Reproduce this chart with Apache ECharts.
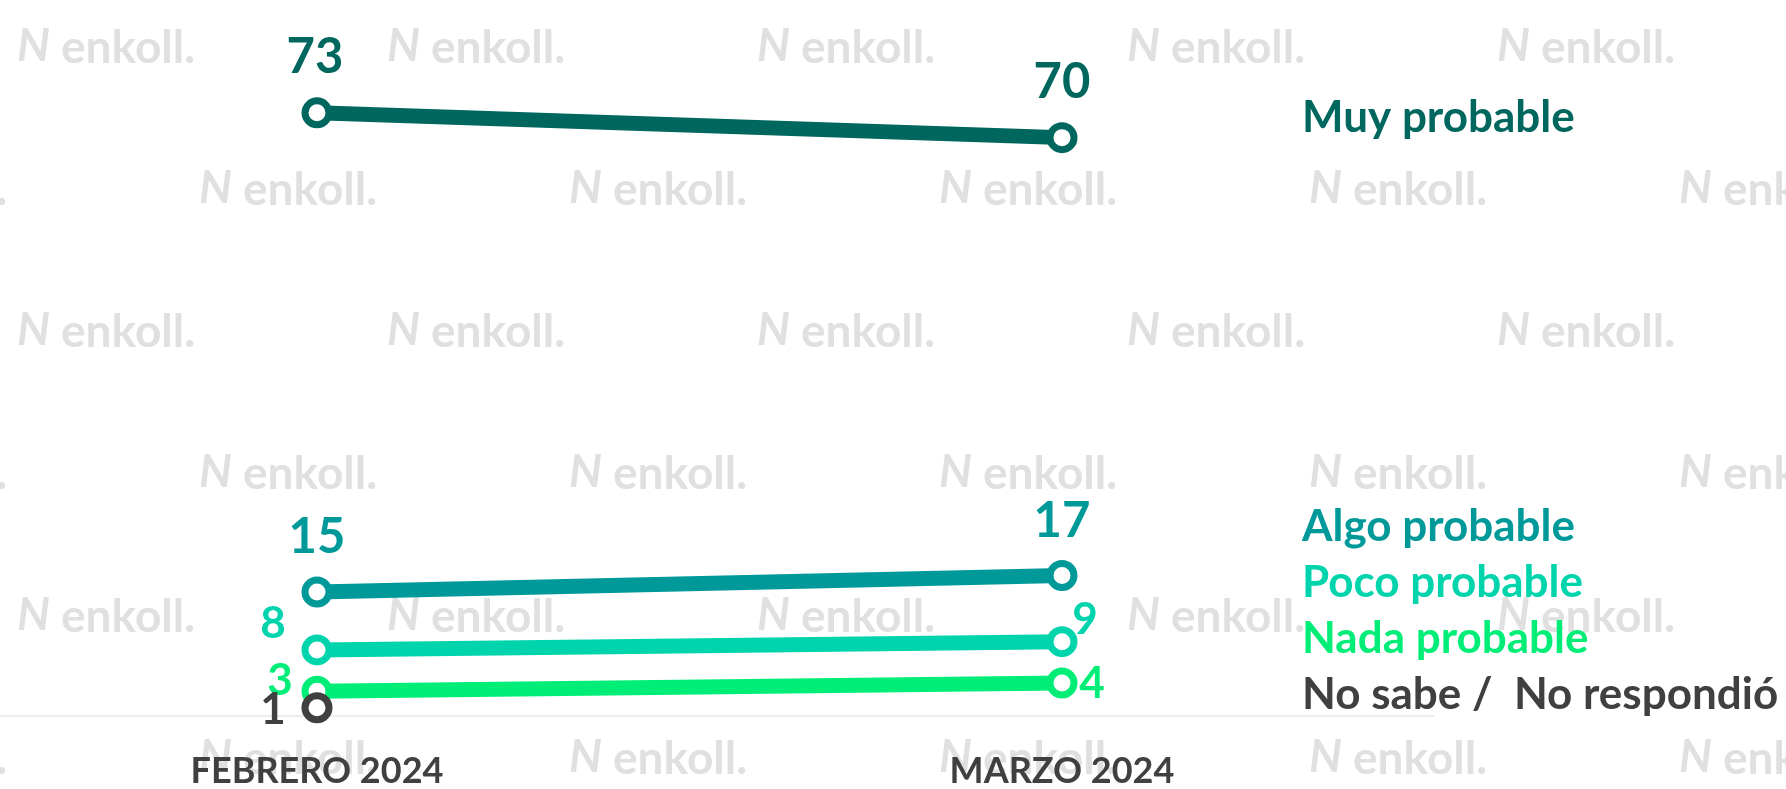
<!DOCTYPE html>
<html>
<head>
<meta charset="utf-8">
<script src="https://cdn.jsdelivr.net/npm/echarts@6/dist/echarts.min.js"></script>
<style>
  html, body { margin: 0; padding: 0; background: #fff; }
  #chart { width: 1786px; height: 789px; }
</style>
</head>
<body>
<div id="chart"></div>
<script>
const categories = ["FEBRERO 2024", "MARZO 2024"];
const seriesNames = ["Muy probable", "Algo probable", "Poco probable", "Nada probable", "No sabe /  No respondió"];
const muyProbable = [73, 70];
const algoProbable = [15, 17];
const pocoProbable = [8, 9];
const nadaProbable = [3, 4];
const noSabe = [1, null];

const colors = ["#00675F", "#009999", "#00D4AD", "#00EE77", "#404040"];
// label offsets relative to the marker [feb, mar]
const labelOffsets = [
  [[-2, -56], [0, -55]],
  [[0, -55], [0, -54]],
  [[-44, -26], [23, -22]],
  [[-37, -10], [30, 1]],
  [[-44, 2], [0, 0]]
];
const labelSizes = [49, 49, 44, 44, 44];
const FONT = "Lato, 'Open Sans', sans-serif";

const chart = echarts.init(document.getElementById("chart"));

const values = [muyProbable, algoProbable, pocoProbable, nadaProbable, noSabe];
const series = values.map((vals, i) => ({
  name: seriesNames[i],
  type: "line",
  data: vals.map((v, j) => ({
    value: [j, v],
    label: { offset: labelOffsets[i][j] }
  })),
  color: colors[i],
  lineStyle: { width: 15, color: colors[i] },
  symbol: "circle",
  symbolSize: 24,
  itemStyle: { color: "#fff", borderColor: colors[i], borderWidth: 7 },
  label: {
    show: true,
    position: "inside",
    color: colors[i],
    fontFamily: FONT,
    fontWeight: "bold",
    fontSize: labelSizes[i],
    formatter: p => p.value[1]
  },
  emphasis: { disabled: true },
  z: 3 + i
}));

// watermark
const watermark = [];
const rowsY = [46, 188, 330, 472, 615, 757];
rowsY.forEach((y, r) => {
  const start = r % 2 === 0 ? 17 : -171;
  for (let x = start; x < 1786; x += 370) {
    watermark.push({
      type: "text", x: x, y: y, z: -10, silent: true,
      style: { text: "N", fill: "#e0e0e0", font: "bold italic 46px " + FONT, verticalAlign: "middle" }
    });
    watermark.push({
      type: "text", x: x + 44, y: y + 2, z: -10, silent: true,
      style: { text: "enkoll.", fill: "#e0e0e0", font: "bold 46px " + FONT, verticalAlign: "middle" }
    });
  }
});

const legendText = { fontFamily: FONT, fontWeight: "bold", fontSize: 44, lineHeight: 56 };

// x scale: 0 -> Feb, 1 -> Mar, plot spans the whole width up to 1434px
const xMin = -317 / 745;
const xMax = xMin + 1434 / 745;

chart.setOption({
  backgroundColor: "#fff",
  animation: false,
  graphic: watermark,
  legend: [
    {
      data: [{ name: seriesNames[0], textStyle: { color: colors[0] } }],
      left: 1297, top: 90, icon: "none", itemWidth: 0, padding: 0,
      selectedMode: false,
      textStyle: legendText
    },
    {
      data: seriesNames.slice(1).map((n, i) => ({ name: n, textStyle: { color: colors[i + 1] } })),
      orient: "vertical", left: 1297, top: 499, icon: "none", itemWidth: 0, itemGap: 0, padding: 0,
      selectedMode: false,
      textStyle: legendText
    }
  ],
  grid: { left: 0, right: 352, top: 55, bottom: 70 },
  xAxis: {
    type: "value",
    min: xMin,
    max: xMax,
    axisLine: { lineStyle: { color: "#eeeeee", width: 2 } },
    axisTick: { show: false },
    splitLine: { show: false },
    axisLabel: {
      customValues: [0, 1],
      formatter: v => categories[Math.round(v)],
      color: "#404040", fontFamily: FONT, fontWeight: "bold", fontSize: 36, margin: 37
    }
  },
  yAxis: {
    type: "value", min: 0, max: 80,
    show: false,
    splitLine: { show: false }
  },
  series: series
});
</script>
</body>
</html>
